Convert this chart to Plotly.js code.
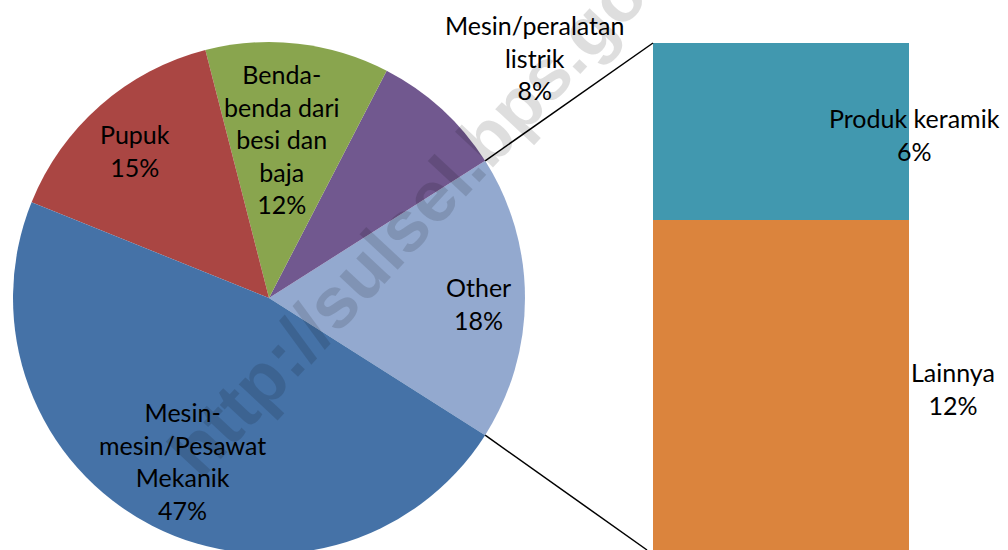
<!DOCTYPE html>
<html>
<head>
<meta charset="utf-8">
<script src="https://cdn.plot.ly/plotly-3.0.1.min.js"></script>
<style>
html, body { margin: 0; padding: 0; background: #fff; overflow: hidden; }
#chart { width: 1008px; height: 560px; }
</style>
</head>
<body>
<div id="chart"></div>
<script>
// ---- data ----
var pieLabels = ['Other', 'Mesin/peralatan listrik', 'Benda-benda dari besi dan baja', 'Pupuk', 'Mesin-mesin/Pesawat Mekanik'];
var pieLabelLines = ['Other', 'Mesin/peralatan<br>listrik', 'Benda-<br>benda dari<br>besi dan<br>baja', 'Pupuk', 'Mesin-<br>mesin/Pesawat<br>Mekanik'];
var pieValues = [18.0, 8.4, 11.6, 14.9, 47.1];
var pieColors = ['#93A9CF', '#71588F', '#89A54E', '#AA4643', '#4572A7'];

var barLabels = ['Lainnya', 'Produk keramik'];
var barValues = [11.7, 6.3];
var barColors = ['#DB843D', '#4198AF'];

var watermark = 'http://sulsel.bps.go.id';

// ---- layout geometry (pixels) ----
var W = 1008, H = 560;
var cx = 269, cy = 298, R = 256;
var barLeft = 653, barRight = 909, barTop = 43, barBottom = 550;

function px(x) { return x / W; }
function py(y) { return 1 - y / H; }

var total = pieValues.reduce(function (a, b) { return a + b; }, 0);
var otherHalfDeg = pieValues[0] / total * 180;

var pieTrace = {
  type: 'pie',
  labels: pieLabels,
  values: pieValues,
  sort: false,
  direction: 'counterclockwise',
  rotation: 90 - otherHalfDeg,
  marker: { colors: pieColors, line: { width: 0 } },
  textinfo: 'none',
  hoverinfo: 'label+percent',
  showlegend: false,
  domain: { x: [px(cx - R), px(cx + R)], y: [py(cy + R), py(cy - R)] }
};

var barTraces = barLabels.map(function (lab, i) {
  return {
    type: 'bar',
    x: [0],
    y: [barValues[i]],
    name: lab,
    marker: { color: barColors[i], line: { width: 0 } },
    width: 1,
    hoverinfo: 'name+y',
    showlegend: false,
    xaxis: 'x',
    yaxis: 'y'
  };
});

var labelFont = { family: 'Lato, "Open Sans", sans-serif', size: 25, color: '#000' };

function pct(v) { return Math.round(v / total * 100) + '%'; }

// label block centers (px)
var piePos = [[478, 303], [534, 58], [282, 139], [135, 151], [182, 461]];
var barPos = [[953, 388], [914, 134]];

var annotations = [];
// watermark
annotations.push({
  text: watermark, xref: 'paper', yref: 'paper', x: px(436), y: py(192),
  xanchor: 'center', yanchor: 'middle', showarrow: false, textangle: -47,
  font: { family: '"Liberation Sans", Arial, sans-serif', size: 72, color: 'rgba(0,0,0,0.13)', weight: 'bold' }
});
pieLabelLines.forEach(function (t, i) {
  annotations.push({
    text: t + '<br>' + pct(pieValues[i]), xref: 'paper', yref: 'paper',
    x: px(piePos[i][0]), y: py(piePos[i][1]), xanchor: 'center', yanchor: 'middle',
    showarrow: false, font: labelFont
  });
});
barLabels.forEach(function (t, i) {
  annotations.push({
    text: t + '<br>' + pct(barValues[i]), xref: 'paper', yref: 'paper',
    x: px(barPos[i][0]), y: py(barPos[i][1]), xanchor: 'center', yanchor: 'middle',
    showarrow: false, font: labelFont
  });
});

// connector lines from the "Other" slice edges to the bar corners
var a = otherHalfDeg * Math.PI / 180;
var p1 = [cx + R * Math.cos(a), cy - R * Math.sin(a)];
var p2 = [cx + R * Math.cos(a), cy + R * Math.sin(a)];
var shapes = [
  { type: 'line', xref: 'paper', yref: 'paper', x0: px(p1[0]), y0: py(p1[1]), x1: px(barLeft), y1: py(barTop), line: { color: '#000', width: 1.5 } },
  { type: 'line', xref: 'paper', yref: 'paper', x0: px(p2[0]), y0: py(p2[1]), x1: px(barLeft - 6), y1: py(barBottom), line: { color: '#000', width: 1.5 } }
];

var layout = {
  width: W, height: H,
  margin: { l: 0, r: 0, t: 0, b: 0 },
  paper_bgcolor: '#fff', plot_bgcolor: 'rgba(0,0,0,0)',
  barmode: 'stack', bargap: 0,
  xaxis: { domain: [px(barLeft), px(barRight)], range: [-0.5, 0.5], visible: false, fixedrange: true },
  yaxis: { domain: [py(barBottom), py(barTop)], range: [0, pieValues[0]], visible: false, fixedrange: true },
  annotations: annotations,
  shapes: shapes,
  showlegend: false
};

Plotly.newPlot('chart', [pieTrace].concat(barTraces), layout, { displayModeBar: false, staticPlot: true });
</script>
</body>
</html>
